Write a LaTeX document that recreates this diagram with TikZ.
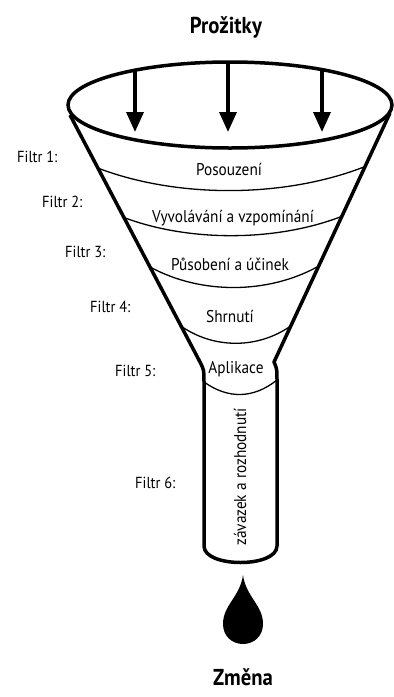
\documentclass[tikz,border=0pt]{standalone}
\usepackage{fontspec}
\setmainfont{PT Sans}[FakeStretch=0.9]
\usetikzlibrary{arrows.meta, positioning, calc}
\tikzset{
    funnel/.style={x=1pt, y=-1pt, >={Triangle[length=20pt, width=17pt]}},
    rim/.style={line width=3.5pt},
    wall/.style={line width=3.5pt, line join=round},
    band/.style={line width=1.3pt},
    pour/.style={->, line width=3.5pt},
    stage/.style={font=\fontsize{17}{19}\selectfont, inner sep=0pt, anchor=base},
    filter/.style={font=\fontsize{16}{18}\selectfont, inner sep=0pt, anchor=base west},
    heading/.style={font=\bfseries\fontsize{23}{25}\selectfont, inner sep=0pt, anchor=base},
    drip/.style={fill=black},
}

\begin{document}
\begin{tikzpicture}[funnel]
        \useasboundingbox (0,0) rectangle (394,697);

        % top opening and the pouring arrows
        \draw[rim] (230,105) ellipse [x radius=162pt, y radius=43pt];
        \coordinate (s1) at (135,70);  \coordinate (e1) at (135,132);
        \coordinate (s2) at (228,63);  \coordinate (e2) at (228,132);
        \coordinate (s3) at (322,70);  \coordinate (e3) at (322,132);
        \foreach \i in {1,2,3}
            \draw[pour] (s\i) -- (e\i);

        % funnel walls and tube
        \coordinate (tl) at (70,115);
        \coordinate (bl) at (200,362);
        \coordinate (tr) at (390,113);
        \coordinate (br) at (274,362);
        \draw[wall] (tl) -- (bl) .. controls (204,370) .. (204,382) -- (204,546)
            .. controls (204,568) and (277,568) .. (277,546) -- (277,380)
            .. controls (277,369) .. (br) -- (tr);

        % filter boundaries
        \foreach \t/\dc in {0.215/31, 0.415/25, 0.615/28, 0.855/23}
            \draw[band] let \p1=($(tl)!\t!(bl)$), \p2=($(tr)!\t!(br)$) in
                (\p1) .. controls ($(\p1)!0.3!(\p2)+(0,\dc)$) and ($(\p1)!0.7!(\p2)+(0,\dc)$) .. (\p2);
        \draw[band] (204,382) .. controls (228,399) and (253,399) .. (277,380);

        % stages
        \node[stage] (b1) at (229,175) {Posouzení};
        \node[stage] (b2) at (233,222) {Vyvolávání a vzpomínání};
        \node[stage] (b3) at (230,270) {Působení a účinek};
        \node[stage] (b4) at (230,322) {Shrnutí};
        \node[stage] (b5) at (236,373) {Aplikace};
        \node[stage, anchor=center, rotate=90] (b6) at (240,477) {závazek a rozhodnutí};

        % filter labels
        \node[filter] (f1) at (17,162) {Filtr 1:};
        \node[filter] (f2) at (42,207) {Filtr 2:};
        \node[filter] (f3) at (65,257) {Filtr 3:};
        \node[filter] (f4) at (90,312) {Filtr 4:};
        \node[filter] (f5) at (115,376) {Filtr 5:};
        \node[filter] (f6) at (135,488) {Filtr 6:};

        % the drop
        \fill[drip] (243,575) .. controls (246,597) and (263,605) .. (263,624)
            .. controls (263,636) and (254,644) .. (243,644)
            .. controls (232,644) and (223,636) .. (223,624)
            .. controls (223,605) and (240,597) .. (243,575) -- cycle;

        \node[heading] (top) at (226,33) {Prožitky};
        \node[heading] (end) at (243,685) {Změna};
\end{tikzpicture}
\end{document}
